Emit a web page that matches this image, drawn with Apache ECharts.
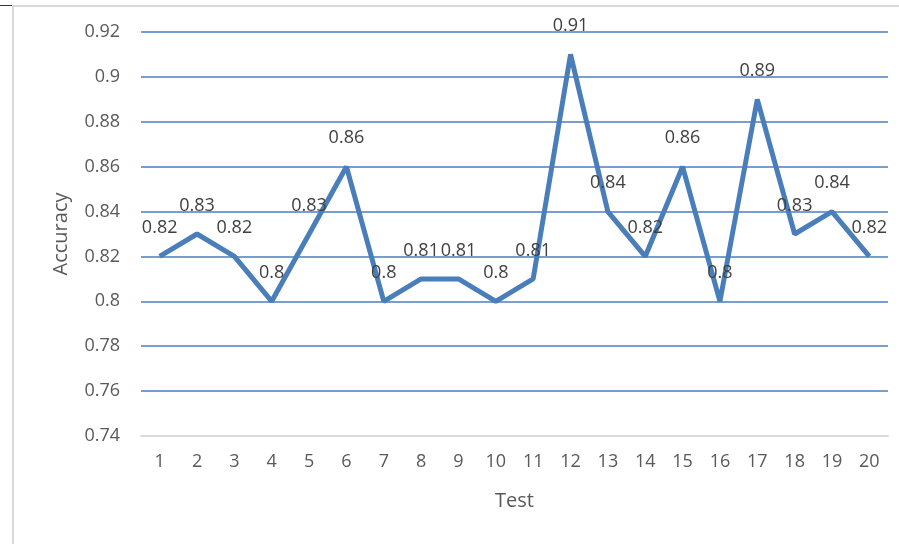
<!DOCTYPE html>
<html>
<head>
<meta charset="utf-8">
<script src="https://cdn.jsdelivr.net/npm/echarts@6/dist/echarts.min.js"></script>
<style>
  html, body { margin: 0; padding: 0; background: #fff; }
  .wrap { position: relative; width: 899px; height: 544px; }
  .chart { width: 899px; height: 544px; }
  .bTop { position: absolute; left: 12px; top: 5px; right: 0; height: 2px; background: #d9d9d9; }
  .bTopDark { position: absolute; left: 0; top: 5px; width: 12px; height: 1px; background: #333; }
  .bLeft { position: absolute; left: 12px; top: 5px; bottom: 0; width: 2px; background: #d9d9d9; }
</style>
</head>
<body>
<div class="wrap">
  <div class="chart"></div>
  <div class="bTopDark"></div>
  <div class="bTop"></div>
  <div class="bLeft"></div>
</div>
<script>
// 数据
let tests = ["1","2","3","4","5","6","7","8","9","10","11","12","13","14","15","16","17","18","19","20"];
let accuracy = [0.82, 0.83, 0.82, 0.8, 0.83, 0.86, 0.8, 0.81, 0.81, 0.8, 0.81, 0.91, 0.84, 0.82, 0.86, 0.8, 0.89, 0.83, 0.84, 0.82];

function setLine() {
  let myChart = echarts.init(document.querySelector(".chart"));
  let font = "'Open Sans', 'Noto Sans', sans-serif";
  let option = {
    animation: false,
    grid: {
      top: 32,
      bottom: 108,
      left: 141,
      right: 11,
    },
    xAxis: {
      type: "category",
      data: tests,
      boundaryGap: true,
      name: "Test",
      nameLocation: "middle",
      nameGap: 55,
      nameTextStyle: { color: "#595959", fontSize: 20, fontFamily: font },
      axisLine: { lineStyle: { color: "#d9d9d9", width: 2 } },
      axisTick: { show: false },
      axisLabel: { color: "#595959", fontSize: 18, margin: 17, fontFamily: font },
    },
    yAxis: {
      type: "value",
      min: 0.74,
      max: 0.92,
      interval: 0.02,
      name: "Accuracy",
      nameLocation: "middle",
      nameGap: 70,
      nameTextStyle: { color: "#595959", fontSize: 20, fontFamily: font },
      axisLine: { show: false },
      axisTick: { show: false },
      axisLabel: {
        color: "#595959",
        fontSize: 18,
        margin: 21,
        fontFamily: font,
        formatter: function (v) {
          return parseFloat(v.toFixed(2)).toString();
        },
      },
      splitLine: { lineStyle: { color: "#4a7ebb", width: 1.5 } },
    },
    series: [
      {
        name: "Accuracy",
        type: "line",
        data: accuracy,
        symbol: "circle",
        symbolSize: 1,
        showSymbol: true,
        itemStyle: { color: "rgba(0,0,0,0)" },
        lineStyle: { color: "#4a7ebb", width: 5 },
        labelLayout: { hideOverlap: false },
        label: {
          show: true,
          position: "top",
          distance: 19,
          color: "#404040",
          fontSize: 18,
          fontFamily: font,
          formatter: function (p) {
            return parseFloat(p.value.toFixed(2)).toString();
          },
        },
      },
    ],
  };
  myChart.setOption(option);
}
setLine();
</script>
</body>
</html>
